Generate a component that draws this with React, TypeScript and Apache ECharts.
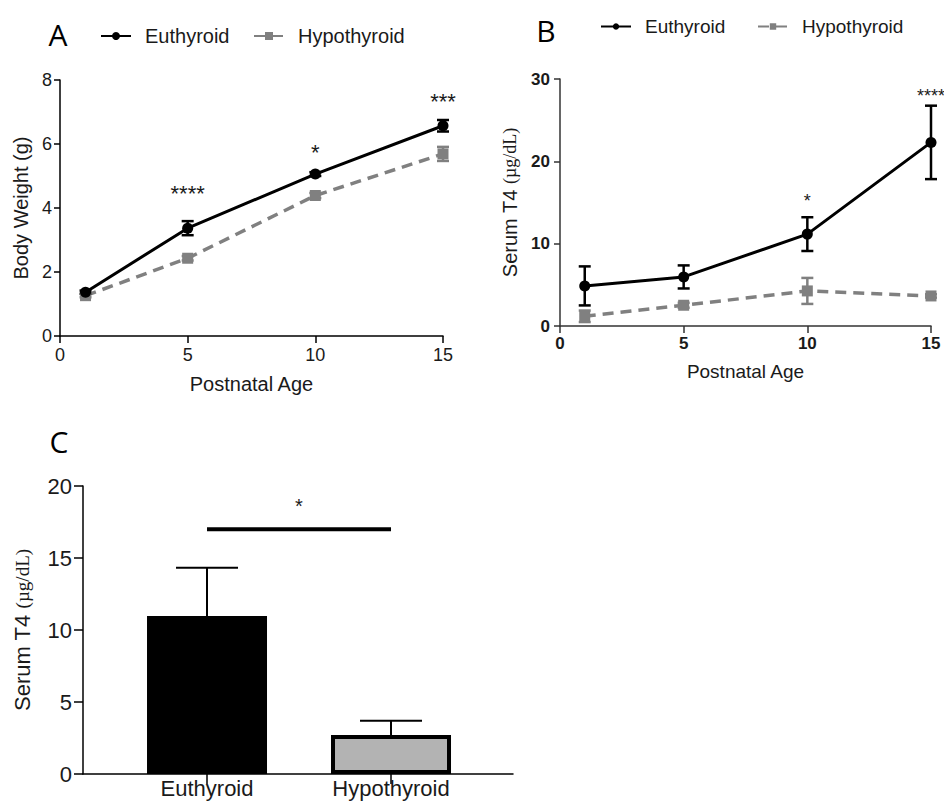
import React, { useEffect, useRef } from 'react';
import * as echarts from 'echarts';

// ---------- data ----------
const days = [1, 5, 10, 15];
const xTicks = [0, 5, 10, 15];

// Panel A: body weight (g)
const bwEu = [1.37, 3.37, 5.06, 6.57];
const bwEuErr = [0.05, 0.22, 0.06, 0.18];
const bwHy = [1.26, 2.43, 4.39, 5.69];
const bwHyErr = [0.05, 0.07, 0.08, 0.22];
const starsAX = [5, 10, 15];
const starsAY = [4.44, 5.75, 7.34];
const starsAT = ['****', '*', '***'];

// Panel B: serum T4 (µg/dL) by age
const t4Eu = [4.87, 5.96, 11.16, 22.3];
const t4EuErr = [2.37, 1.4, 2.05, 4.46];
const t4Hy = [1.18, 2.52, 4.26, 3.65];
const t4HyErr = [0.7, 0.3, 1.58, 0.2];
const starsBX = [10, 15];
const starsBY = [15.2, 27.9];
const starsBT = ['*', '****'];

// Panel C: serum T4 (µg/dL) by group
const groups = ['Euthyroid', 'Hypothyroid'];
const groupPos = [1, 2];
const t4Mean = [10.97, 2.71];
const t4Sem = [3.36, 0.99];
const sigFrom = [1];
const sigTo = [2];
const sigY = [17];
const sigStarY = [18.6];
const sigText = ['*'];

// ---------- styles ----------
const SANS = '"Liberation Sans", Arial, Helvetica, sans-serif';
const SERIF = '"Liberation Serif", "Times New Roman", serif';
const LETTER = '"Open Sans", "Noto Sans", sans-serif';
const BLACK = '#000000';
const GRAY = '#808080';
const TXT = '#1a1a1a';

function errBars(
  name: string,
  axis: number,
  xs: number[],
  ys: number[],
  errs: number[],
  color: string,
  lw: number,
  capW: number,
  upperOnly = false
) {
  return {
    name,
    type: 'custom',
    xAxisIndex: axis,
    yAxisIndex: axis,
    z: 4,
    silent: true,
    encode: { x: 0, y: [1, 2] },
    data: xs.map((x, i) => [x, upperOnly ? ys[i] : ys[i] - errs[i], ys[i] + errs[i]]),
    renderItem: (params: any, api: any) => {
      const x = api.value(0);
      const lo = api.coord([x, api.value(1)]);
      const hi = api.coord([x, api.value(2)]);
      const hw = capW / 2;
      const st = { stroke: color, lineWidth: lw };
      const children: any[] = [
        { type: 'line', shape: { x1: lo[0], y1: lo[1], x2: hi[0], y2: hi[1] }, style: st },
        { type: 'line', shape: { x1: hi[0] - hw, y1: hi[1], x2: hi[0] + hw, y2: hi[1] }, style: st },
      ];
      if (!upperOnly) {
        children.push({
          type: 'line',
          shape: { x1: lo[0] - hw, y1: lo[1], x2: lo[0] + hw, y2: lo[1] },
          style: st,
        });
      }
      return { type: 'group', children };
    },
  };
}

function stars(name: string, axis: number, xs: number[], ys: number[], texts: string[], size: number) {
  return {
    name,
    type: 'custom',
    xAxisIndex: axis,
    yAxisIndex: axis,
    z: 5,
    silent: true,
    clip: false,
    encode: { x: 0, y: 1 },
    data: xs.map((x, i) => [x, ys[i]]),
    renderItem: (params: any, api: any) => {
      const p = api.coord([api.value(0), api.value(1)]);
      return {
        type: 'text',
        x: p[0],
        y: p[1],
        style: {
          text: texts[params.dataIndex],
          fill: TXT,
          font: `${size}px ${SANS}`,
          align: 'center',
          verticalAlign: 'middle',
        },
      };
    },
  };
}

function legendItem(name: string, left: number, top: number, ih: number, fs: number) {
  return {
    data: [name],
    left,
    top,
    padding: 0,
    itemWidth: 30,
    itemHeight: ih,
    selectedMode: false,
    textStyle: { fontSize: fs, fontFamily: SANS, color: TXT, padding: [0, 0, 0, 9] },
  };
}

export default function App() {
  const ref = useRef<HTMLDivElement>(null);

  useEffect(() => {
    if (!ref.current) return;
    const chart = echarts.init(ref.current, undefined, { renderer: 'svg' });

    const axisLineBlack = { show: true, lineStyle: { color: BLACK, width: 1.5 } };
    const axisLineB = { show: true, lineStyle: { color: '#333', width: 1.5 } };

    const option: any = {
      animation: false,
      backgroundColor: '#ffffff',
      textStyle: { fontFamily: SANS },
      graphic: [
        { type: 'text', x: 58, y: 34, style: { text: 'A', font: `30px ${LETTER}`, fill: BLACK, align: 'center', verticalAlign: 'middle', textAlign: 'center', textVerticalAlign: 'middle' } },
        { type: 'text', x: 546, y: 30, style: { text: 'B', font: `30px ${LETTER}`, fill: BLACK, align: 'center', verticalAlign: 'middle', textAlign: 'center', textVerticalAlign: 'middle' } },
        { type: 'text', x: 59, y: 441, style: { text: 'C', font: `30px ${LETTER}`, fill: BLACK, align: 'center', verticalAlign: 'middle', textAlign: 'center', textVerticalAlign: 'middle' } },
      ],
      legend: [
        legendItem('Euthyroid', 100, 26, 10, 20),
        legendItem('Hypothyroid', 253, 26, 10, 20),
        legendItem('Euthyroid', 600, 17, 8, 19),
        legendItem('Hypothyroid', 757, 17, 8, 19),
      ],
      grid: [
        { left: 60, top: 80, width: 383, height: 256 },
        { left: 560, top: 79, width: 371, height: 247 },
        { left: 83, top: 486, width: 430, height: 288 },
      ],
      xAxis: [
        {
          gridIndex: 0,
          type: 'value',
          min: xTicks[0],
          max: xTicks[xTicks.length - 1],
          interval: 5,
          name: 'Postnatal Age',
          nameLocation: 'middle',
          nameGap: 38,
          nameTextStyle: { fontSize: 20, fontFamily: SANS, color: TXT },
          axisLine: axisLineBlack,
          axisTick: { show: true, length: 7, lineStyle: { color: BLACK, width: 1.5 } },
          axisLabel: { fontSize: 18, fontFamily: SANS, color: TXT, margin: 10 },
          splitLine: { show: false },
        },
        {
          gridIndex: 1,
          type: 'value',
          min: xTicks[0],
          max: xTicks[xTicks.length - 1],
          interval: 5,
          name: 'Postnatal Age',
          nameLocation: 'middle',
          nameGap: 36,
          nameTextStyle: { fontSize: 19, fontFamily: SANS, color: TXT },
          axisLine: axisLineB,
          axisTick: { show: true, length: 7, lineStyle: { color: '#333', width: 1.5 } },
          axisLabel: { fontSize: 17, fontWeight: 'bold', fontFamily: SANS, color: TXT, margin: 9 },
          splitLine: { show: false },
        },
        {
          gridIndex: 2,
          type: 'value',
          min: 0.326,
          max: 2.663,
          axisLine: axisLineBlack,
          axisTick: { show: true, length: 10, customValues: groupPos, lineStyle: { color: BLACK, width: 1.5 } },
          axisLabel: {
            customValues: groupPos,
            fontSize: 22,
            fontFamily: SANS,
            color: TXT,
            margin: 3,
            formatter: (v: number) => groups[groupPos.indexOf(Math.round(v))] ?? '',
          },
          splitLine: { show: false },
        },
      ],
      yAxis: [
        {
          gridIndex: 0,
          type: 'value',
          min: 0,
          max: 8,
          interval: 2,
          name: 'Body Weight (g)',
          nameLocation: 'middle',
          nameGap: 29,
          nameTextStyle: { fontSize: 20, fontFamily: SANS, color: TXT },
          axisLine: axisLineBlack,
          axisTick: { show: true, length: 6, lineStyle: { color: BLACK, width: 1.5 } },
          axisLabel: { fontSize: 18, fontFamily: SANS, color: TXT, margin: 8 },
          splitLine: { show: false },
        },
        {
          gridIndex: 1,
          type: 'value',
          min: 0,
          max: 30,
          interval: 10,
          name: '{a|Serum T4 }{b|(µg/dL)}',
          nameLocation: 'middle',
          nameGap: 40,
          nameTextStyle: {
            rich: {
              a: { fontSize: 20, fontFamily: SANS, color: TXT },
              b: { fontSize: 18, fontFamily: SERIF, color: TXT },
            },
          },
          axisLine: axisLineB,
          axisTick: { show: true, length: 6, lineStyle: { color: '#333', width: 1.5 } },
          axisLabel: { fontSize: 17, fontWeight: 'bold', fontFamily: SANS, color: TXT, margin: 10 },
          splitLine: { show: false },
        },
        {
          gridIndex: 2,
          type: 'value',
          min: 0,
          max: 20,
          interval: 5,
          name: '{a|Serum T4 }{b|(µg/dL)}',
          nameLocation: 'middle',
          nameGap: 50,
          nameTextStyle: {
            rich: {
              a: { fontSize: 22, fontFamily: SANS, color: TXT },
              b: { fontSize: 19, fontFamily: SERIF, color: TXT },
            },
          },
          axisLine: axisLineBlack,
          axisTick: { show: true, length: 9, lineStyle: { color: BLACK, width: 1.5 } },
          axisLabel: { fontSize: 22, fontFamily: SANS, color: TXT, margin: 11 },
          splitLine: { show: false },
        },
      ],
      series: [
        // Panel A
        {
          name: 'Euthyroid',
          type: 'line',
          xAxisIndex: 0,
          yAxisIndex: 0,
          z: 6,
          data: days.map((d, i) => [d, bwEu[i]]),
          symbol: 'circle',
          symbolSize: 11,
          itemStyle: { color: BLACK },
          lineStyle: { color: BLACK, width: 3 },
        },
        {
          name: 'Hypothyroid',
          type: 'line',
          xAxisIndex: 0,
          yAxisIndex: 0,
          z: 3,
          data: days.map((d, i) => [d, bwHy[i]]),
          symbol: 'rect',
          symbolSize: 11,
          itemStyle: { color: GRAY },
          lineStyle: { color: GRAY, width: 3.5, type: [11, 7] },
        },
        errBars('errAEu', 0, days, bwEu, bwEuErr, BLACK, 2.5, 12),
        errBars('errAHy', 0, days, bwHy, bwHyErr, GRAY, 2.5, 12),
        stars('starsA', 0, starsAX, starsAY, starsAT, 22),
        // Panel B
        {
          name: 'Euthyroid',
          type: 'line',
          xAxisIndex: 1,
          yAxisIndex: 1,
          z: 6,
          data: days.map((d, i) => [d, t4Eu[i]]),
          symbol: 'circle',
          symbolSize: 11,
          itemStyle: { color: BLACK },
          lineStyle: { color: BLACK, width: 3 },
        },
        {
          name: 'Hypothyroid',
          type: 'line',
          xAxisIndex: 1,
          yAxisIndex: 1,
          z: 3,
          data: days.map((d, i) => [d, t4Hy[i]]),
          symbol: 'rect',
          symbolSize: 11,
          itemStyle: { color: GRAY },
          lineStyle: { color: GRAY, width: 3.5, type: [11, 7] },
        },
        errBars('errBEu', 1, days, t4Eu, t4EuErr, BLACK, 2.5, 12),
        errBars('errBHy', 1, days, t4Hy, t4HyErr, GRAY, 2.5, 12),
        stars('starsB', 1, starsBX, starsBY, starsBT, 18),
        // Panel C
        {
          name: 'groupBars',
          type: 'bar',
          xAxisIndex: 2,
          yAxisIndex: 2,
          barWidth: 120,
          z: 2,
          data: groupPos.map((p, i) => ({
            value: [p, t4Mean[i]],
            itemStyle:
              i === 0
                ? { color: BLACK }
                : { color: '#b3b3b3', borderColor: BLACK, borderWidth: 4 },
          })),
        },
        errBars('errC', 2, groupPos, t4Mean, t4Sem, BLACK, 2, 62, true),
        {
          name: 'sigC',
          type: 'custom',
          xAxisIndex: 2,
          yAxisIndex: 2,
          z: 5,
          silent: true,
          encode: { x: [0, 1], y: 2 },
          data: sigFrom.map((f, i) => [f, sigTo[i], sigY[i], sigStarY[i]]),
          renderItem: (params: any, api: any) => {
            const a = api.coord([api.value(0), api.value(2)]);
            const b = api.coord([api.value(1), api.value(2)]);
            const s = api.coord([(api.value(0) + api.value(1)) / 2, api.value(3)]);
            return {
              type: 'group',
              children: [
                { type: 'line', shape: { x1: a[0], y1: a[1], x2: b[0], y2: b[1] }, style: { stroke: BLACK, lineWidth: 4 } },
                {
                  type: 'text',
                  x: s[0],
                  y: s[1],
                  style: {
                    text: sigText[params.dataIndex],
                    fill: TXT,
                    font: `20px ${SANS}`,
                    align: 'center',
                    verticalAlign: 'middle',
                  },
                },
              ],
            };
          },
        },
      ],
    };

    chart.setOption(option);
    return () => chart.dispose();
  }, []);

  return (
    <div
      ref={ref}
      style={{ position: 'absolute', left: 0, top: 0, width: 944, height: 811, background: '#fff' }}
    />
  );
}
